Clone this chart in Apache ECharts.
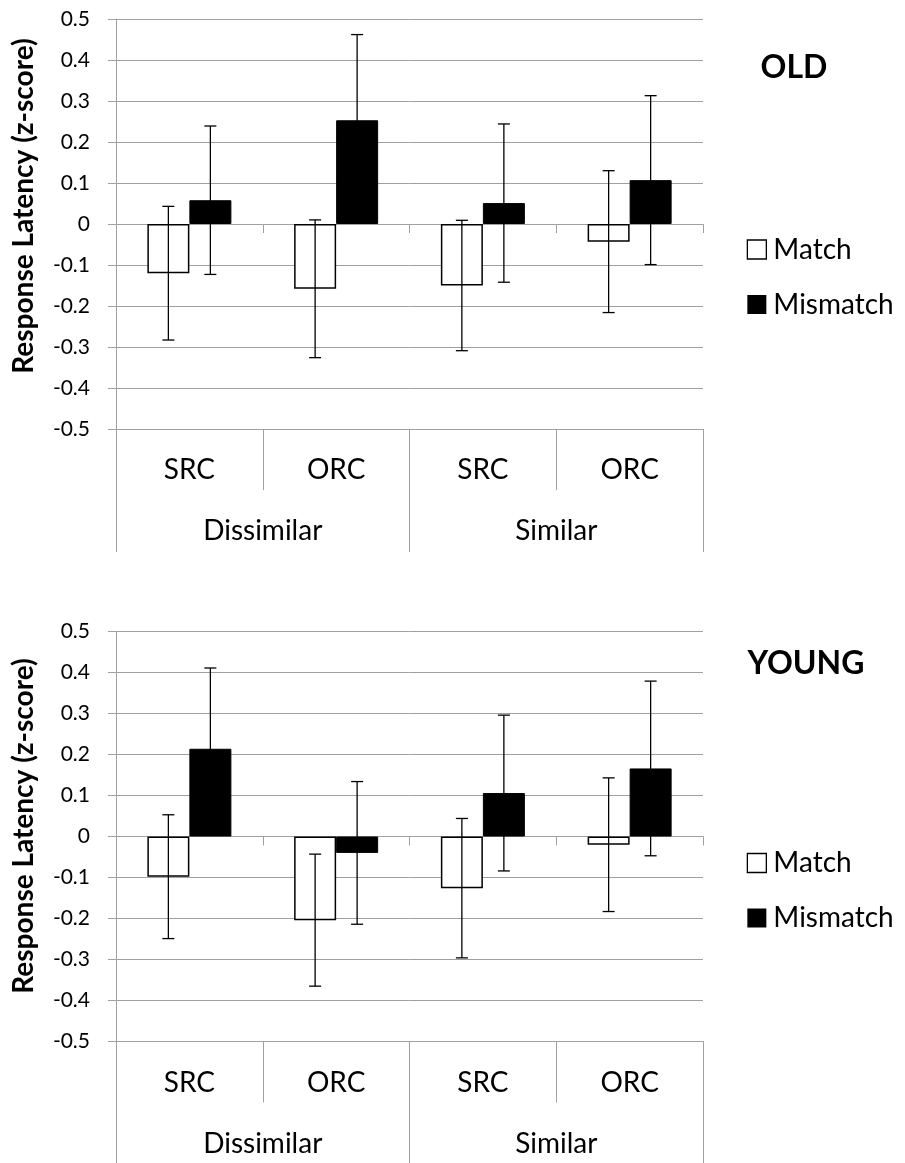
<!DOCTYPE html>
<html>
<head>
<meta charset="utf-8">
<script src="https://cdn.jsdelivr.net/npm/echarts@6/dist/echarts.min.js"></script>
<style>
  html, body { margin: 0; padding: 0; background: #fff; }
  #chart { width: 905px; height: 1163px; }
</style>
</head>
<body>
<div id="chart"></div>
<script>
  // categories
  var clauses = ['SRC', 'ORC', 'SRC', 'ORC']
  var groups = ['Dissimilar', 'Similar']
  var yTickLabels = ['-0.5', '-0.4', '-0.3', '-0.2', '-0.1', '0', '0.1', '0.2', '0.3', '0.4', '0.5']
  var yMin = -0.5, yMax = 0.5, yStep = 0.1

  // OLD
  var oldMatch = [-0.120, -0.158, -0.150, -0.043]
  var oldMatchErr = [0.163, 0.168, 0.159, 0.173]
  var oldMismatch = [0.058, 0.253, 0.051, 0.107]
  var oldMismatchErr = [0.181, 0.209, 0.193, 0.206]

  // YOUNG
  var youngMatch = [-0.098, -0.204, -0.126, -0.020]
  var youngMatchErr = [0.151, 0.161, 0.170, 0.163]
  var youngMismatch = [0.214, -0.040, 0.106, 0.166]
  var youngMismatchErr = [0.197, 0.174, 0.190, 0.213]

  var FONT = 'Lato'
  var GRAY = '#a0a0a0'
  var BAR_W = 42

  function errData(mean, err) {
    return mean.map(function (m, i) { return [i, m - err[i], m + err[i]] })
  }

  function errRender(offset) {
    return function (params, api) {
      var hi = api.coord([api.value(0), api.value(2)])
      var lo = api.coord([api.value(0), api.value(1)])
      var x = hi[0] + offset
      var st = { stroke: '#000', lineWidth: 1.3 }
      return {
        type: 'group',
        children: [
          { type: 'line', shape: { x1: x, y1: hi[1], x2: x, y2: lo[1] }, style: st },
          { type: 'line', shape: { x1: x - 6, y1: hi[1], x2: x + 6, y2: hi[1] }, style: st },
          { type: 'line', shape: { x1: x - 6, y1: lo[1], x2: x + 6, y2: lo[1] }, style: st }
        ]
      }
    }
  }

  var grids = [
    { left: 116, width: 587, top: 19, height: 410 },
    { left: 116, width: 587, top: 631.5, height: 410 }
  ]

  var xAxes = [], yAxes = [], series = []
  var panels = [
    { match: oldMatch, matchErr: oldMatchErr, mis: oldMismatch, misErr: oldMismatchErr },
    { match: youngMatch, matchErr: youngMatchErr, mis: youngMismatch, misErr: youngMismatchErr }
  ]

  panels.forEach(function (p, g) {
    var base = xAxes.length
    // axis through zero, carries the bars
    xAxes.push({
      gridIndex: g, type: 'category', data: clauses, position: 'bottom',
      axisLine: { show: true, onZero: true, lineStyle: { color: GRAY, width: 1 } },
      axisTick: { show: true, length: 9, lineStyle: { color: GRAY } },
      axisLabel: { show: false },
      splitLine: { show: false }
    })
    // clause labels at the bottom
    xAxes.push({
      gridIndex: g, type: 'category', data: clauses, position: 'bottom',
      axisLine: { show: true, onZero: false, lineStyle: { color: GRAY, width: 1 } },
      axisTick: { show: true, length: 61, lineStyle: { color: GRAY } },
      axisLabel: { margin: 26, fontFamily: FONT, fontSize: 28, lineHeight: 30, color: '#000' },
      splitLine: { show: false }
    })
    // group labels
    xAxes.push({
      gridIndex: g, type: 'category', data: groups, position: 'bottom',
      axisLine: { show: true, onZero: false, lineStyle: { color: GRAY, width: 1 } },
      axisTick: { show: true, length: 123, lineStyle: { color: GRAY } },
      axisLabel: { margin: 87, fontFamily: FONT, fontSize: 28, lineHeight: 30, color: '#000' },
      splitLine: { show: false }
    })
    yAxes.push({
      gridIndex: g, type: 'value', min: yMin, max: yMax, interval: yStep,
      axisLine: { show: true, lineStyle: { color: GRAY } },
      axisTick: { show: true, length: 8, lineStyle: { color: GRAY } },
      axisLabel: {
        margin: 26, fontFamily: FONT, fontSize: 21, color: '#000',
        formatter: function (v) { return yTickLabels[Math.round((v - yMin) / yStep)] }
      },
      splitLine: { show: true, lineStyle: { color: GRAY, width: 1 } }
    })

    series.push({
      name: 'Match', type: 'bar', xAxisIndex: base, yAxisIndex: g,
      data: p.match, barWidth: BAR_W, barGap: '0%',
      itemStyle: { color: '#fff', borderColor: '#000', borderWidth: 1.5 },
      z: 3
    })
    series.push({
      name: 'Mismatch', type: 'bar', xAxisIndex: base, yAxisIndex: g,
      data: p.mis, barWidth: BAR_W, barGap: '0%',
      itemStyle: { color: '#000', borderColor: '#000', borderWidth: 1 },
      z: 3
    })
    series.push({
      type: 'custom', xAxisIndex: base, yAxisIndex: g,
      data: errData(p.match, p.matchErr), renderItem: errRender(-BAR_W / 2), z: 5
    })
    series.push({
      type: 'custom', xAxisIndex: base, yAxisIndex: g,
      data: errData(p.mis, p.misErr), renderItem: errRender(BAR_W / 2), z: 5
    })
  })

  function legendAt(top) {
    return {
      orient: 'vertical', left: 746.7, top: top, padding: 0,
      itemWidth: 19, itemHeight: 19, itemGap: 25, selectedMode: false,
      textStyle: { fontFamily: FONT, fontSize: 28, lineHeight: 30, color: '#000', padding: [0, 0, 0, 2] },
      data: [
        { name: 'Match', icon: 'rect', itemStyle: { color: '#fff', borderColor: '#000', borderWidth: 1.3 } },
        { name: 'Mismatch', icon: 'rect', itemStyle: { color: '#000', borderWidth: 0 } }
      ]
    }
  }

  function label(text, x, y, size, rot) {
    return {
      type: 'text', x: x, y: y, rotation: rot || 0,
      style: { text: text, fontFamily: FONT, fontWeight: 'bold', fontSize: size, fill: '#000',
        textAlign: 'center', textVerticalAlign: 'middle' }
    }
  }

  var chart = echarts.init(document.getElementById('chart'))
  chart.setOption({
    animation: false,
    backgroundColor: '#fff',
    grid: grids,
    xAxis: xAxes,
    yAxis: yAxes,
    legend: [legendAt(234.5), legendAt(848)],
    series: series,
    graphic: [
      label('Response Latency (z-score)', 24, 206, 28, Math.PI / 2),
      label('Response Latency (z-score)', 24, 826, 28, Math.PI / 2),
      label('OLD', 794, 68, 32),
      label('YOUNG', 806, 664, 32)
    ]
  })
</script>
</body>
</html>
